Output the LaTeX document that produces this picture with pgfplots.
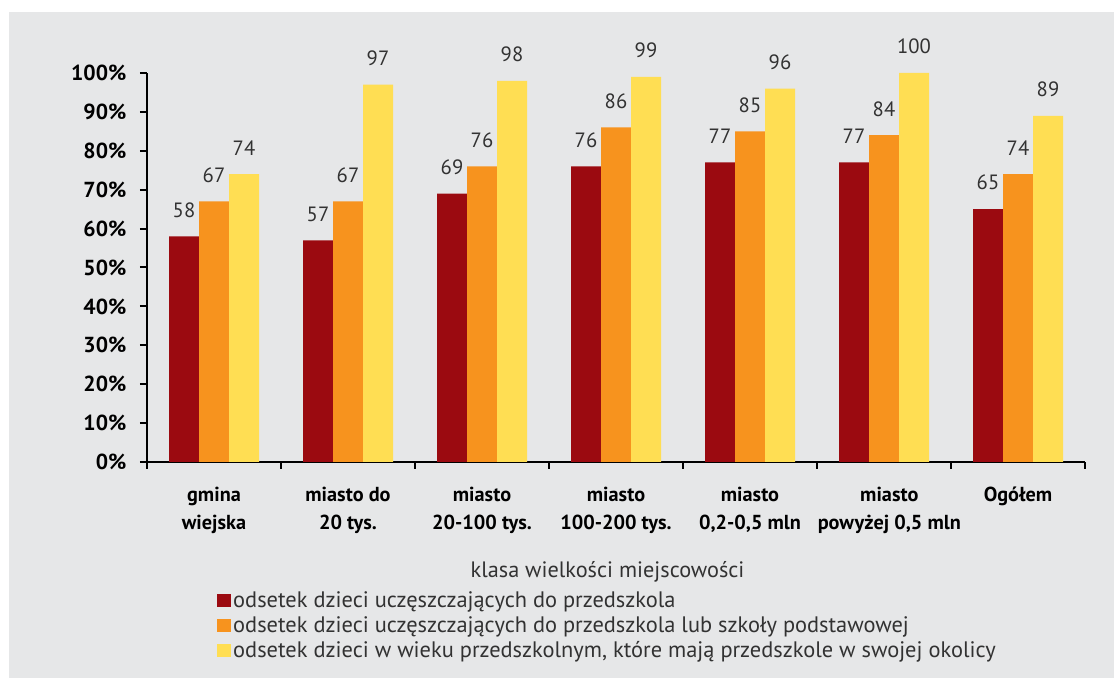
\documentclass[border=0pt]{standalone}
\usepackage{pgfplots}
\pgfplotsset{compat=1.18}
\usepackage{fontspec}
\setmainfont{PT Sans}
\definecolor{bg}{RGB}{230,231,232}
\definecolor{c1}{RGB}{155,10,16}
\definecolor{c2}{RGB}{247,147,30}
\definecolor{c3}{RGB}{255,222,83}
\definecolor{lbl}{RGB}{50,50,50}

\begin{document}
\begin{tikzpicture}
\fill[white, use as bounding box] (0,0) rectangle (835.5pt,508.5pt);
\fill[bg] (6.75pt,0) rectangle (835.5pt,499.5pt);
\begin{axis}[
    at={(110.25pt,162pt)}, anchor=south west,
    scale only axis, width=703.5pt, height=291.75pt,
    ybar=0pt, bar width=22.5pt,
    xmin=-0.5, xmax=6.5, ymin=0, ymax=100,
    clip=false,
    /pgf/number format/assume math mode=true,
    axis x line*=bottom, axis y line*=left,
    axis line style={black, line width=1.5pt},
    every tick/.style={black, line width=1.5pt},
    tick align=outside,
    xtick={0,...,6},
    minor xtick={-0.5,0.5,...,6.5},
    major x tick style={draw=none},
    minor tick length=5.25pt,
    major tick length=5.25pt,
    xticklabels={{gmina\\wiejska}, {miasto do\\20 tys.}, {miasto\\20-100 tys.}, {miasto\\100-200 tys.}, {miasto\\0,2-0,5 mln}, {\hspace*{8pt}miasto\\\hspace*{8pt}powyżej 0,5 mln}, {Ogółem}},
    xticklabel style={align=center, font=\fontsize{15.2}{21}\selectfont\bfseries, anchor=north, inner sep=0pt, yshift=-13.2pt},
    ytick={0,10,...,100},
    yticklabels={0\%,10\%,20\%,30\%,40\%,50\%,60\%,70\%,80\%,90\%,100\%},
    yticklabel style={font=\fontsize{16.3}{18}\selectfont\bfseries, anchor=east, inner sep=0pt, xshift=-10pt},
    xlabel={klasa wielkości miejscowości},
    xlabel style={at={(axis description cs:0.491,-0.283)}, anchor=center, font=\fontsize{16.7}{19}\selectfont, text=lbl},
    nodes near coords,
    every node near coord/.append style={font=\fontsize{15.5}{17}\selectfont, text=lbl, anchor=south, inner sep=0pt, yshift=14pt},
    legend image code/.code={\fill[#1] (0pt,-5pt) rectangle (10.5pt,5pt);},
    legend cell align=left,
    legend style={at={(axis description cs:0.0746,-0.328)}, anchor=north west, draw=none, fill=none,
        font=\fontsize{16.8}{18.75}\selectfont, text=lbl, inner sep=0pt, row sep=2.2pt,
        nodes={inner sep=1.5pt},
        /tikz/every even column/.append style={column sep=0pt}},
]
\addplot[fill=c1, draw=none] coordinates {(0,58) (1,57) (2,69) (3,76) (4,77) (5,77) (6,65)};
\addplot[fill=c2, draw=none] coordinates {(0,67) (1,67) (2,76) (3,86) (4,85) (5,84) (6,74)};
\addplot[fill=c3, draw=none] coordinates {(0,74) (1,97) (2,98) (3,99) (4,96) (5,100) (6,89)};
\legend{odsetek dzieci uczęszczających do przedszkola,
        odsetek dzieci uczęszczających do przedszkola lub szkoły podstawowej,
        {odsetek dzieci w wieku przedszkolnym, które mają przedszkole w swojej okolicy}}
\end{axis}
\end{tikzpicture}
\end{document}
